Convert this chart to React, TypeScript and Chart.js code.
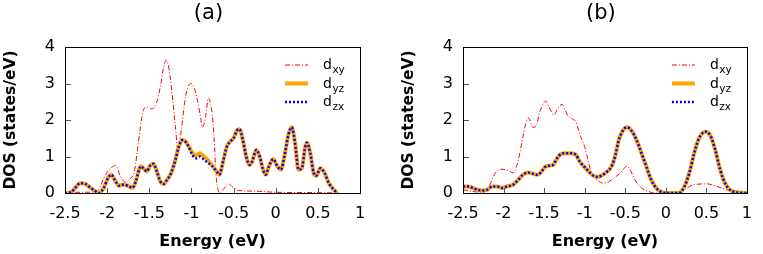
import React, { useEffect, useRef } from 'react';
import { Chart, registerables } from 'chart.js';

Chart.register(...registerables);

// ---- axis ticks ----
const xTicks = [-2.5, -2, -1.5, -1, -0.5, 0, 0.5, 1];
const yTicks = [0, 1, 2, 3, 4];
const seriesLabels = ['dxy', 'dyz', 'dzx'];
const panelTitles = ['(a)', '(b)'];

// ---- panel (a) [energy, DOS] ----
const dxyA = [
  [-2.5, 0.02], [-2.3, 0.02], [-2.15, 0.03], [-2.1, 0.1], [-2.04, 0.4], [-1.99, 0.6], [-1.96, 0.68],
  [-1.9, 0.75], [-1.84, 0.45], [-1.78, 0.29], [-1.72, 0.41], [-1.68, 0.55], [-1.64, 1.18], [-1.6, 1.9],
  [-1.57, 2.27], [-1.53, 2.36], [-1.47, 2.3], [-1.41, 2.5], [-1.37, 2.9], [-1.33, 3.45], [-1.3, 3.64],
  [-1.27, 3.45], [-1.23, 2.73], [-1.19, 1.82], [-1.16, 1.18], [-1.12, 1.73], [-1.07, 2.64], [-1.01, 3.0],
  [-0.97, 2.9], [-0.93, 2.55], [-0.89, 2.05], [-0.87, 1.8], [-0.83, 2.1], [-0.8, 2.6], [-0.76, 2.27],
  [-0.73, 1.45], [-0.71, 0.55], [-0.68, 0.05], [-0.66, 0.0], [-0.62, 0.1], [-0.56, 0.25], [-0.5, 0.14],
  [-0.44, 0.07], [-0.24, 0.05], [0, 0.02], [0.5, 0.01], [0.75, 0.0],
];
const dyzA = [
  [-2.5, 0], [-2.43, 0.02], [-2.38, 0.14], [-2.32, 0.27], [-2.26, 0.25], [-2.2, 0.15], [-2.14, 0.05],
  [-2.1, 0], [-2.04, 0.14], [-1.99, 0.41], [-1.95, 0.5], [-1.91, 0.36], [-1.86, 0.2], [-1.8, 0.23],
  [-1.74, 0.18], [-1.7, 0.14], [-1.66, 0.32], [-1.6, 0.73], [-1.57, 0.68], [-1.53, 0.59], [-1.49, 0.75],
  [-1.45, 0.8], [-1.41, 0.59], [-1.37, 0.32], [-1.33, 0.25], [-1.29, 0.36], [-1.24, 0.55], [-1.19, 0.91],
  [-1.15, 1.27], [-1.11, 1.45], [-1.07, 1.41], [-1.03, 1.27], [-0.99, 1.11], [-0.95, 1.02], [-0.9, 1.09],
  [-0.85, 1.0], [-0.8, 0.89], [-0.76, 0.77], [-0.7, 0.59], [-0.67, 0.5], [-0.62, 0.91], [-0.58, 1.27],
  [-0.54, 1.41], [-0.5, 1.5], [-0.46, 1.71], [-0.43, 1.75], [-0.39, 1.45], [-0.35, 1.0], [-0.31, 0.77],
  [-0.28, 0.86], [-0.23, 1.18], [-0.19, 1.0], [-0.15, 0.64], [-0.12, 0.5], [-0.08, 0.73], [-0.03, 0.93],
  [0.02, 0.73], [0.06, 0.64], [0.11, 1.09], [0.15, 1.59], [0.19, 1.8], [0.23, 1.36], [0.27, 0.64],
  [0.31, 0.68], [0.35, 1.27], [0.37, 1.38], [0.41, 1.09], [0.45, 0.55], [0.48, 0.47], [0.53, 0.68],
  [0.58, 0.55], [0.63, 0.27], [0.69, 0.09], [0.73, 0],
];
const dzxA = [
  [-2.5, 0], [-2.43, 0.02], [-2.38, 0.14], [-2.32, 0.27], [-2.26, 0.25], [-2.2, 0.15], [-2.14, 0.05],
  [-2.1, 0], [-2.04, 0.14], [-1.99, 0.41], [-1.95, 0.5], [-1.91, 0.36], [-1.86, 0.2], [-1.8, 0.23],
  [-1.74, 0.18], [-1.7, 0.14], [-1.66, 0.32], [-1.6, 0.73], [-1.57, 0.68], [-1.53, 0.59], [-1.49, 0.75],
  [-1.45, 0.8], [-1.41, 0.59], [-1.37, 0.32], [-1.33, 0.25], [-1.29, 0.36], [-1.24, 0.55], [-1.19, 0.91],
  [-1.15, 1.27], [-1.11, 1.45], [-1.07, 1.4], [-1.03, 1.25], [-0.99, 1.05], [-0.95, 0.95], [-0.9, 1.0],
  [-0.85, 0.91], [-0.8, 0.82], [-0.76, 0.75], [-0.7, 0.59], [-0.67, 0.5], [-0.62, 0.91], [-0.58, 1.27],
  [-0.54, 1.41], [-0.5, 1.5], [-0.46, 1.71], [-0.43, 1.75], [-0.39, 1.45], [-0.35, 1.0], [-0.31, 0.77],
  [-0.28, 0.86], [-0.23, 1.18], [-0.19, 1.0], [-0.15, 0.64], [-0.12, 0.5], [-0.08, 0.73], [-0.03, 0.93],
  [0.02, 0.73], [0.06, 0.64], [0.11, 1.09], [0.15, 1.59], [0.19, 1.8], [0.23, 1.36], [0.27, 0.64],
  [0.31, 0.68], [0.35, 1.27], [0.37, 1.38], [0.41, 1.09], [0.45, 0.55], [0.48, 0.47], [0.53, 0.68],
  [0.58, 0.55], [0.63, 0.27], [0.69, 0.09], [0.73, 0],
];

// ---- panel (b) [energy, DOS] ----
const dxyB = [
  [-2.5, 0.09], [-2.4, 0.05], [-2.28, 0.02], [-2.22, 0.05], [-2.16, 0.27], [-2.1, 0.55], [-2.04, 0.65],
  [-1.98, 0.64], [-1.92, 0.59], [-1.88, 0.55], [-1.84, 0.73], [-1.8, 1.09], [-1.76, 1.55], [-1.72, 1.95],
  [-1.69, 2.05], [-1.64, 1.8], [-1.6, 1.82], [-1.56, 2.18], [-1.51, 2.45], [-1.48, 2.52], [-1.44, 2.36],
  [-1.38, 2.14], [-1.33, 2.32], [-1.28, 2.43], [-1.25, 2.32], [-1.2, 2.09], [-1.15, 2.03], [-1.11, 1.95],
  [-1.05, 1.55], [-1.0, 1.27], [-0.96, 0.91], [-0.91, 0.5], [-0.87, 0.4], [-0.83, 0.33], [-0.78, 0.27],
  [-0.72, 0.29], [-0.64, 0.41], [-0.56, 0.55], [-0.48, 0.73], [-0.44, 0.64], [-0.38, 0.36], [-0.3, 0.14],
  [-0.22, 0.05], [-0.14, 0], [0.12, 0], [0.23, 0.1], [0.35, 0.23], [0.51, 0.25], [0.63, 0.18],
  [0.75, 0.09], [0.87, 0.02], [1.0, 0],
];
const dyzB = [
  [-2.5, 0.18], [-2.43, 0.18], [-2.38, 0.14], [-2.32, 0.09], [-2.26, 0.07], [-2.2, 0.09], [-2.14, 0.18],
  [-2.08, 0.18], [-2.02, 0.14], [-1.96, 0.18], [-1.88, 0.23], [-1.82, 0.36], [-1.76, 0.5], [-1.7, 0.56],
  [-1.64, 0.53], [-1.58, 0.5], [-1.53, 0.59], [-1.49, 0.71], [-1.43, 0.75], [-1.39, 0.77], [-1.34, 0.95],
  [-1.29, 1.07], [-1.23, 1.09], [-1.17, 1.09], [-1.11, 1.05], [-1.06, 0.86], [-1.01, 0.73], [-0.95, 0.59],
  [-0.89, 0.47], [-0.84, 0.44], [-0.8, 0.47], [-0.72, 0.59], [-0.66, 0.77], [-0.62, 1.05], [-0.58, 1.45],
  [-0.52, 1.74], [-0.48, 1.8], [-0.42, 1.7], [-0.36, 1.45], [-0.3, 1.09], [-0.24, 0.73], [-0.18, 0.36],
  [-0.1, 0.09], [-0.04, 0.02], [0, 0], [0.16, 0], [0.23, 0.18], [0.29, 0.55], [0.35, 1.09], [0.41, 1.5],
  [0.49, 1.68], [0.55, 1.57], [0.61, 1.18], [0.67, 0.64], [0.73, 0.27], [0.79, 0.09], [0.87, 0.02], [1.0, 0],
];
const dzxB = dyzB;

const FONT = "'DejaVu Sans', 'Liberation Sans', Arial, sans-serif";
const LEGEND_ROWS = [65, 83.5, 102];

const toPts = (arr: number[][]) => arr.map(([x, y]) => ({ x, y }));

const framePlugin = {
  id: 'frame',
  afterDraw(chart: any) {
    const { ctx, chartArea } = chart;
    const { left, right, top, bottom } = chartArea;
    const xs = chart.scales.x;
    const ys = chart.scales.y;
    ctx.save();
    // inward ticks
    ctx.strokeStyle = '#555';
    ctx.lineWidth = 1;
    ctx.beginPath();
    yTicks.slice(1, -1).forEach((v) => {
      const py = Math.round(ys.getPixelForValue(v)) + 0.5;
      ctx.moveTo(left, py);
      ctx.lineTo(left + 6, py);
    });
    xTicks.slice(1, -1).forEach((v) => {
      const px = Math.round(xs.getPixelForValue(v)) + 0.5;
      ctx.moveTo(px, bottom);
      ctx.lineTo(px, bottom - 5);
    });
    ctx.stroke();
    // box
    ctx.strokeStyle = '#000';
    ctx.strokeRect(Math.round(left) + 0.5, Math.round(top) + 0.5, Math.round(right - left), Math.round(bottom - top));
    // title
    ctx.fillStyle = '#000';
    ctx.font = `21px ${FONT}`;
    ctx.textAlign = 'center';
    ctx.textBaseline = 'middle';
    ctx.fillText(chart.options.plugins.frame.title, (left + right) / 2 - 4, 14);
    // legend
    chart.data.datasets.forEach((ds: any, i: number) => {
      const y = LEGEND_ROWS[i];
      ctx.save();
      ctx.strokeStyle = ds.borderColor;
      ctx.lineWidth = ds.borderWidth;
      ctx.setLineDash(ds.borderDash || []);
      ctx.beginPath();
      ctx.moveTo(right - 75, y);
      ctx.lineTo(right - 52, y);
      ctx.stroke();
      ctx.restore();
      const label: string = ds.label;
      const x0 = right - 37;
      ctx.textAlign = 'left';
      ctx.textBaseline = 'alphabetic';
      ctx.font = `14px ${FONT}`;
      ctx.fillText(label[0], x0, y + 4);
      const w = ctx.measureText(label[0]).width;
      ctx.font = `10.5px ${FONT}`;
      ctx.fillText(label.slice(1), x0 + w + 0.5, y + 8);
    });
    ctx.restore();
  },
};

function Panel({ title, series, left, width, padRight }: any) {
  const ref = useRef<HTMLCanvasElement>(null);
  useEffect(() => {
    const styles = [
      { color: '#ff0000', width: 1, dash: [5, 2, 1, 2], order: 3 },
      { color: '#ffa500', width: 4, dash: [], order: 2 },
      { color: '#0000ff', width: 2.5, dash: [2, 2], order: 1 },
    ];
    const chart = new Chart(ref.current!, {
      type: 'line',
      data: {
        datasets: series.map((s: number[][], i: number) => ({
          label: seriesLabels[i],
          data: toPts(s),
          borderColor: styles[i].color,
          borderWidth: styles[i].width,
          borderDash: styles[i].dash,
          order: styles[i].order,
          pointRadius: 0,
          fill: false,
          cubicInterpolationMode: 'monotone',
        })),
      },
      options: {
        animation: false,
        responsive: false,
        layout: { padding: { top: 47, right: padRight, left: 0, bottom: 0 } },
        plugins: {
          legend: { display: false },
          tooltip: { enabled: false },
          frame: { title },
        } as any,
        scales: {
          x: {
            type: 'linear',
            min: xTicks[0],
            max: xTicks[xTicks.length - 1],
            afterBuildTicks: (s: any) => { s.ticks = xTicks.map((v) => ({ value: v })); },
            afterFit: (s: any) => { s.height = 61; },
            grid: { display: false, drawTicks: false },
            border: { display: false },
            ticks: { color: '#000', font: { family: FONT, size: 16 }, padding: 11, maxRotation: 0, autoSkip: false,
              callback: (v: any) => String(v) },
            title: { display: true, text: 'Energy (eV)', color: '#000', font: { family: FONT, size: 16, weight: 'bold' }, padding: { top: 0, bottom: 3 } },
          },
          y: {
            type: 'linear',
            min: yTicks[0],
            max: yTicks[yTicks.length - 1],
            afterBuildTicks: (s: any) => { s.ticks = yTicks.map((v) => ({ value: v })); },
            afterFit: (s: any) => { s.width = 65; },
            grid: { display: false, drawTicks: false },
            border: { display: false },
            ticks: { color: '#000', font: { family: FONT, size: 16 }, padding: 10, callback: (v: any) => String(v) },
            title: { display: true, text: 'DOS (states/eV)', color: '#000', font: { family: FONT, size: 15.5, weight: 'bold' }, padding: { top: 2, bottom: 0 } },
          },
        },
      } as any,
      plugins: [framePlugin],
    });
    return () => chart.destroy();
  }, []);
  return (
    <canvas
      ref={ref}
      width={width}
      height={254}
      style={{ position: 'absolute', left, top: 0, width, height: 254 }}
    />
  );
}

export default function App() {
  return (
    <div style={{ position: 'absolute', left: 0, top: 0, width: 763, height: 254, background: '#fff' }}>
      <Panel title={panelTitles[0]} series={[dxyA, dyzA, dzxA]} left={0} width={380} padRight={20} />
      <Panel title={panelTitles[1]} series={[dxyB, dyzB, dzxB]} left={398} width={365} padRight={6} />
    </div>
  );
}
